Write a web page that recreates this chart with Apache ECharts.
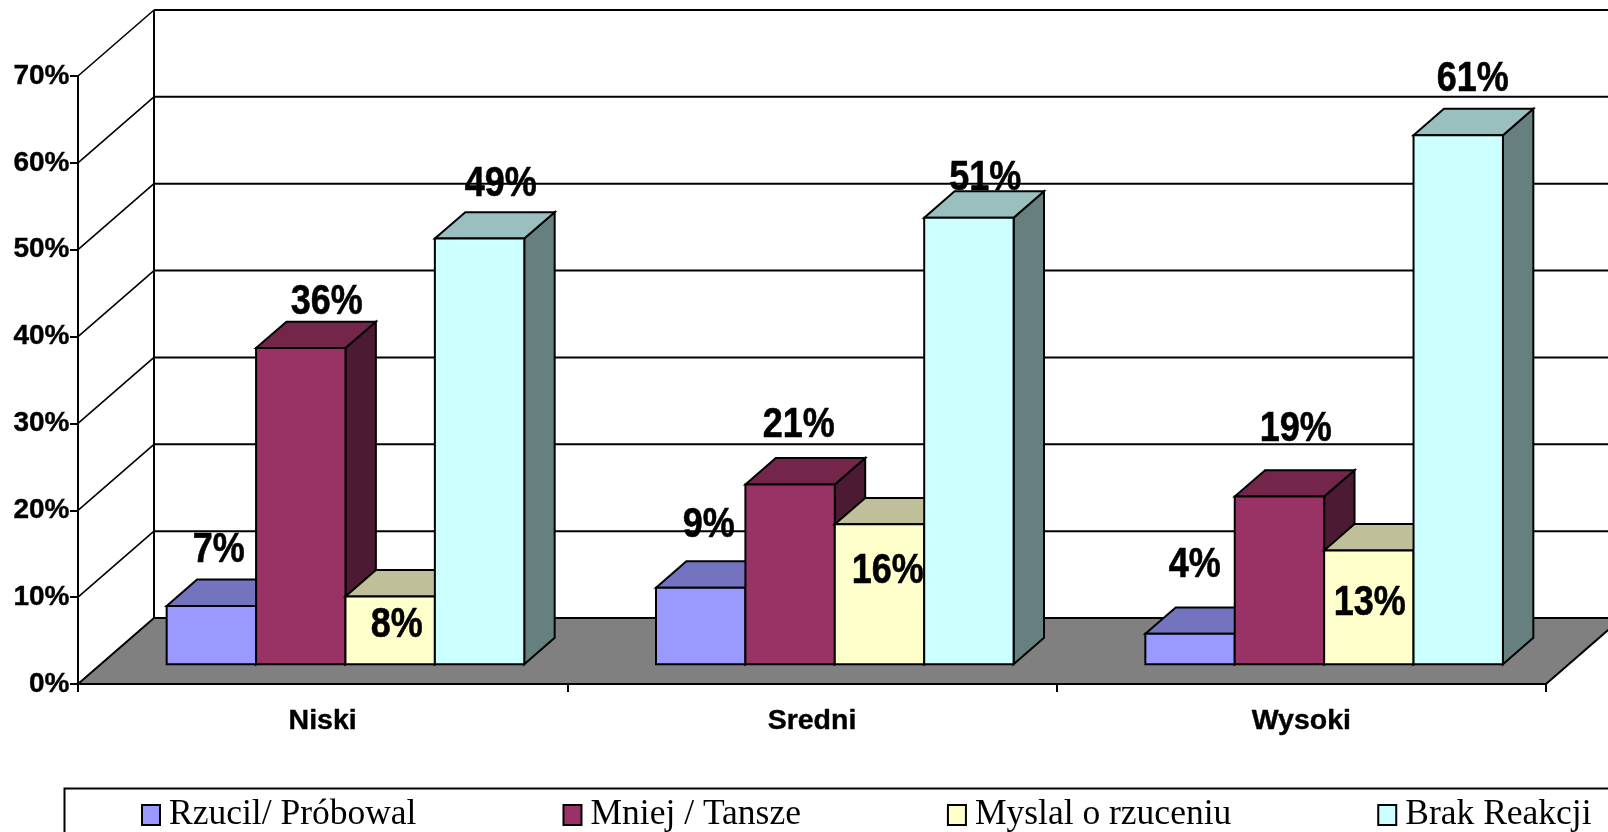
<!DOCTYPE html>
<html>
<head>
<meta charset="utf-8">
<style>html,body{margin:0;padding:0;background:#fff}#c{width:1608px;height:832px}</style>
<script src="https://cdn.jsdelivr.net/npm/echarts@6/dist/echarts.min.js"></script>
</head>
<body>
<div id="c"></div>
<script>
var categories = ['Niski', 'Sredni', 'Wysoki'];
var seriesNames = ['Rzucil/ Próbowal', 'Mniej / Tansze', 'Myslal o rzuceniu', 'Brak Reakcji'];
var rzucil = [6.7, 8.8, 3.5];
var mniej = [36.4, 20.7, 19.3];
var myslal = [7.8, 16.1, 13.1];
var brak = [49, 51.4, 60.9];
var yTicks = [0, 10, 20, 30, 40, 50, 60, 70];

var frontColors = ['#9999FF', '#993366', '#FFFFCC', '#CCFFFF'];
var topColors = ['#7373BF', '#732649', '#BFBF99', '#99BFBF'];
var sideColors = ['#4D4D80', '#4D1A33', '#808066', '#668080'];

// hand placement of the value labels relative to each bar's front top edge
var labelShift = [
  [[7.4, -57.8], [8, -64.6], [4.8, -70.6]],
  [[26, -48.3], [8.7, -61.2], [16.4, -69.4]],
  [[6.6, 26.8], [8.3, 44.8], [1, 50.8]],
  [[21.2, -56.4], [16.4, -42.1], [14.6, -58]]
];
var LABEL_NUDGE_Y = 2.5;

var DEPTH_X = 76, DEPTH_Y = 66;      // oblique projection of the floor
var BAR_W = 89.4, FRONT = 0.30, BACK = 0.70;
var LINE = '#000';

function poly(points, fill) {
  return { type: 'polygon', shape: { points: points },
    style: { fill: fill, stroke: LINE, lineWidth: 2, lineJoin: 'miter' } };
}
function line(x1, y1, x2, y2, w) {
  return { type: 'line', shape: { x1: x1, y1: y1, x2: x2, y2: y2 },
    style: { stroke: LINE, lineWidth: w, fill: null } };
}

function renderFrame(params, api) {
  var band = api.size([1, 0])[0];
  var left = api.coord([0, 0])[0] - band / 2;
  var right = api.coord([categories.length - 1, 0])[0] + band / 2;
  var y0 = api.coord([0, 0])[1];
  var yMax = api.coord([0, yTicks[yTicks.length - 1]])[1];
  var kids = [];
  kids.push(line(left + DEPTH_X, yMax - DEPTH_Y, left + DEPTH_X, y0 - DEPTH_Y, 2));
  yTicks.forEach(function (t) {
    var y = api.coord([0, t])[1];
    if (t > 0) {
      kids.push(line(left + DEPTH_X, y - DEPTH_Y, right + DEPTH_X, y - DEPTH_Y, 2));
      kids.push(line(left, y, left + DEPTH_X, y - DEPTH_Y, 1.6));
    }
  });
  kids.push(poly([[left, y0], [left + DEPTH_X, y0 - DEPTH_Y], [right + DEPTH_X, y0 - DEPTH_Y], [right, y0]], '#808080'));
  return { type: 'group', children: kids };
}

function barRenderer(si, values) {
  return function (params, api) {
    var cat = api.value(0), v = api.value(1);
    var base = api.coord([cat, 0]), top = api.coord([cat, v]);
    var shiftX = FRONT * DEPTH_X, shiftY = FRONT * DEPTH_Y;
    var dx = (BACK - FRONT) * DEPTH_X, dy = (BACK - FRONT) * DEPTH_Y;
    var x0 = base[0] + shiftX - 2 * BAR_W + si * BAR_W, x1 = x0 + BAR_W;
    var yb = base[1] - shiftY, yt = top[1] - shiftY;
    var sh = labelShift[si][cat];
    return { type: 'group', children: [
      poly([[x1, yb], [x1 + dx, yb - dy], [x1 + dx, yt - dy], [x1, yt]], sideColors[si]),
      poly([[x0, yt], [x0 + dx, yt - dy], [x1 + dx, yt - dy], [x1, yt]], topColors[si]),
      poly([[x0, yb], [x0, yt], [x1, yt], [x1, yb]], frontColors[si]),
      { type: 'text', x: (x0 + x1) / 2 + sh[0], y: yt + sh[1] + LABEL_NUDGE_Y, scaleY: 1.16, z2: 100,
        style: { text: Math.round(v) + '%', x: 0, y: 0, textAlign: 'center', textVerticalAlign: 'middle',
          font: 'bold 36px "Liberation Sans"', fill: '#000', stroke: '#000', lineWidth: 0.5 } }
    ] };
  };
}

var barSeries = [rzucil, mniej, myslal, brak].map(function (vals, si) {
  return {
    type: 'custom', name: seriesNames[si], coordinateSystem: 'cartesian2d',
    itemStyle: { color: frontColors[si] },
    renderItem: barRenderer(si, vals),
    encode: { x: 0, y: 1 },
    data: vals.map(function (v, i) { return [i, v]; }),
    animation: false, silent: true
  };
});

var chart = echarts.init(document.getElementById('c'), null, { renderer: 'canvas' });
chart.setOption({
  animation: false,
  color: frontColors,
  grid: { left: 78, right: 62, top: 76, bottom: 148, containLabel: false },
  xAxis: {
    type: 'category', data: categories, boundaryGap: true,
    axisLine: { show: true, lineStyle: { color: '#000', width: 2 } },
    axisTick: { show: true, length: 8, alignWithLabel: false, lineStyle: { color: '#000', width: 2 } },
    axisLabel: { margin: 23, color: '#000', fontFamily: 'Liberation Sans', fontWeight: 'bold', fontSize: 28.5,
      textBorderColor: '#000', textBorderWidth: 0.4 }
  },
  yAxis: {
    type: 'value', min: 0, max: 70, interval: 10,
    axisLine: { show: true, lineStyle: { color: '#000', width: 2 } },
    axisTick: { show: true, length: 8, lineStyle: { color: '#000', width: 2 } },
    splitLine: { show: false },
    axisLabel: { margin: 8.5, color: '#000', fontFamily: 'Liberation Sans', fontWeight: 'bold', fontSize: 28,
      textBorderColor: '#000', textBorderWidth: 0.4,
      formatter: function (v) { return v + '%'; } }
  },
  legend: {
    data: seriesNames, left: 141, top: 797, itemWidth: 18, itemHeight: 20, itemGap: 146,
    selectedMode: false, icon: 'rect', padding: 0,
    itemStyle: { borderColor: '#000', borderWidth: 2 },
    textStyle: { fontFamily: 'Liberation Serif', fontSize: 35.5, color: '#000', padding: [0, 0, 0, 4] }
  },
  graphic: [{ type: 'rect', left: 62, top: 786, shape: { width: 1600, height: 100 },
    style: { fill: 'none', stroke: '#000', lineWidth: 2 }, silent: true }],
  series: [{
    type: 'custom', name: 'frame', coordinateSystem: 'cartesian2d',
    renderItem: renderFrame, encode: { x: 0, y: 1 }, data: [[0, 0]], silent: true
  }].concat(barSeries)
});
</script>
</body>
</html>
